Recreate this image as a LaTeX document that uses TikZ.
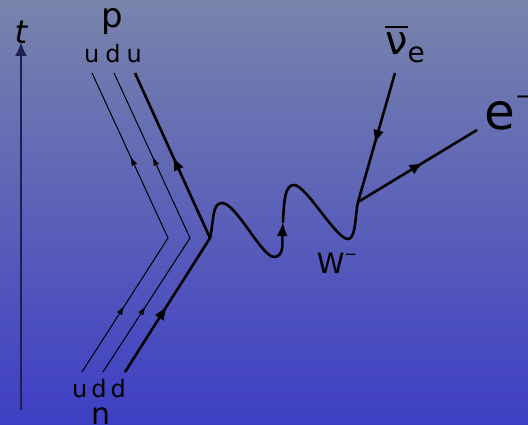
\documentclass[tikz,border=0pt]{standalone}
\usepackage{fontspec}
\setmainfont{DejaVu Sans}
\usetikzlibrary{arrows.meta,decorations.markings}
\definecolor{bgtop}{RGB}{120,132,172}
\definecolor{bgbottom}{RGB}{62,62,196}
\definecolor{axisblue}{RGB}{30,32,80}

\begin{document}
\begin{tikzpicture}[
    x=1pt, y=-1pt,
    quark/.style={
        draw,
        line width=1pt,
        postaction={decorate},
        decoration={markings,
            mark=at position 0.23 with {\arrow{Latex[length=9pt,width=6pt]}},
            mark=at position 0.73 with {\arrow{Latex[length=9pt,width=6pt]}}}
    },
    heavyquark/.style={
        draw,
        line width=2.6pt,
        postaction={decorate},
        decoration={markings,
            mark=at position 0.23 with {\arrow{Latex[length=14pt,width=11pt]}},
            mark=at position 0.73 with {\arrow{Latex[length=14pt,width=11pt]}}}
    },
    lepton/.style={
        draw,
        line width=2.6pt,
        postaction={decorate},
        decoration={markings,
            mark=at position 0.55 with {\arrow{Latex[length=14pt,width=11pt]}}}
    },
    boson/.style={
        draw,
        line width=2.6pt,
        line cap=round
    },
    particle/.style={
        inner sep=0pt,
        anchor=base
    }
]

\useasboundingbox (0,0) rectangle (528,425);
\shade[top color=bgtop, bottom color=bgbottom] (0,0) rectangle (528,425);

\coordinate (tbot) at (21,410);
\coordinate (ttop) at (21,42);
\draw[axisblue, line width=2.4pt, -{Latex[length=14pt,width=12pt]}] (tbot) -- (ttop);
\node[particle] (time) at (21,44) {\fontsize{32}{34}\selectfont\itshape t};

\coordinate (q1top) at (92,73);
\coordinate (q1mid) at (168,238);
\coordinate (q1bot) at (82,372);
\coordinate (q2top) at (114,73);
\coordinate (q2mid) at (190,238);
\coordinate (q2bot) at (103,372);
\coordinate (q3top) at (135,73);
\coordinate (vtxA) at (210,238);
\coordinate (q3bot) at (125,372);

\draw[quark] (q1bot) -- (q1mid) -- (q1top);
\draw[quark] (q2bot) -- (q2mid) -- (q2top);
\draw[heavyquark] (q3bot) -- (vtxA) -- (q3top);

\node[particle] (proton) at (112,28) {\fontsize{34}{36}\selectfont p};
\node[particle] (udu) at (113,63) {\fontsize{24}{26}\selectfont u\kern6pt d\kern6pt u};
\node[particle] (udd) at (99,397) {\fontsize{24}{26}\selectfont u\kern4pt d\kern4pt d};
\node[particle] (neutron) at (101,424) {\fontsize{30}{32}\selectfont n};

\coordinate (vtxB) at (358,202);
\coordinate (wmid) at (283,222);
\draw[boson, -{Latex[length=14pt,width=11pt]}] (vtxA)
    .. controls (214,220) and (212,203) .. (222,203)
    .. controls (236,203) and (262,257) .. (274,257)
    .. controls (285,257) and (282,240) .. (wmid);
\draw[boson] (wmid)
    .. controls (284,200) and (285,185) .. (294,185)
    .. controls (306,185) and (336,239) .. (348,239)
    .. controls (356,239) and (355,215) .. (vtxB);
\node[particle] (wboson) at (337,273) {\fontsize{28}{30}\selectfont W\raisebox{0.5em}{\fontsize{15}{15}\selectfont −}};

\coordinate (nutop) at (395,73);
\coordinate (eend) at (477,130);
\draw[lepton] (nutop) -- (vtxB);
\draw[lepton] (vtxB) -- (eend);

\node[particle] (nubar) at (405,55) {\fontsize{40}{42}\selectfont\vbox{\hrule height 2pt\kern5pt\hbox{ν}}\raisebox{-0.2em}{\fontsize{28}{30}\selectfont e}};
\node[particle, anchor=base west] (electron) at (484,130) {\fontsize{50}{52}\selectfont e\raisebox{0.5em}{\fontsize{24}{24}\selectfont −}};

\end{tikzpicture}
\end{document}
